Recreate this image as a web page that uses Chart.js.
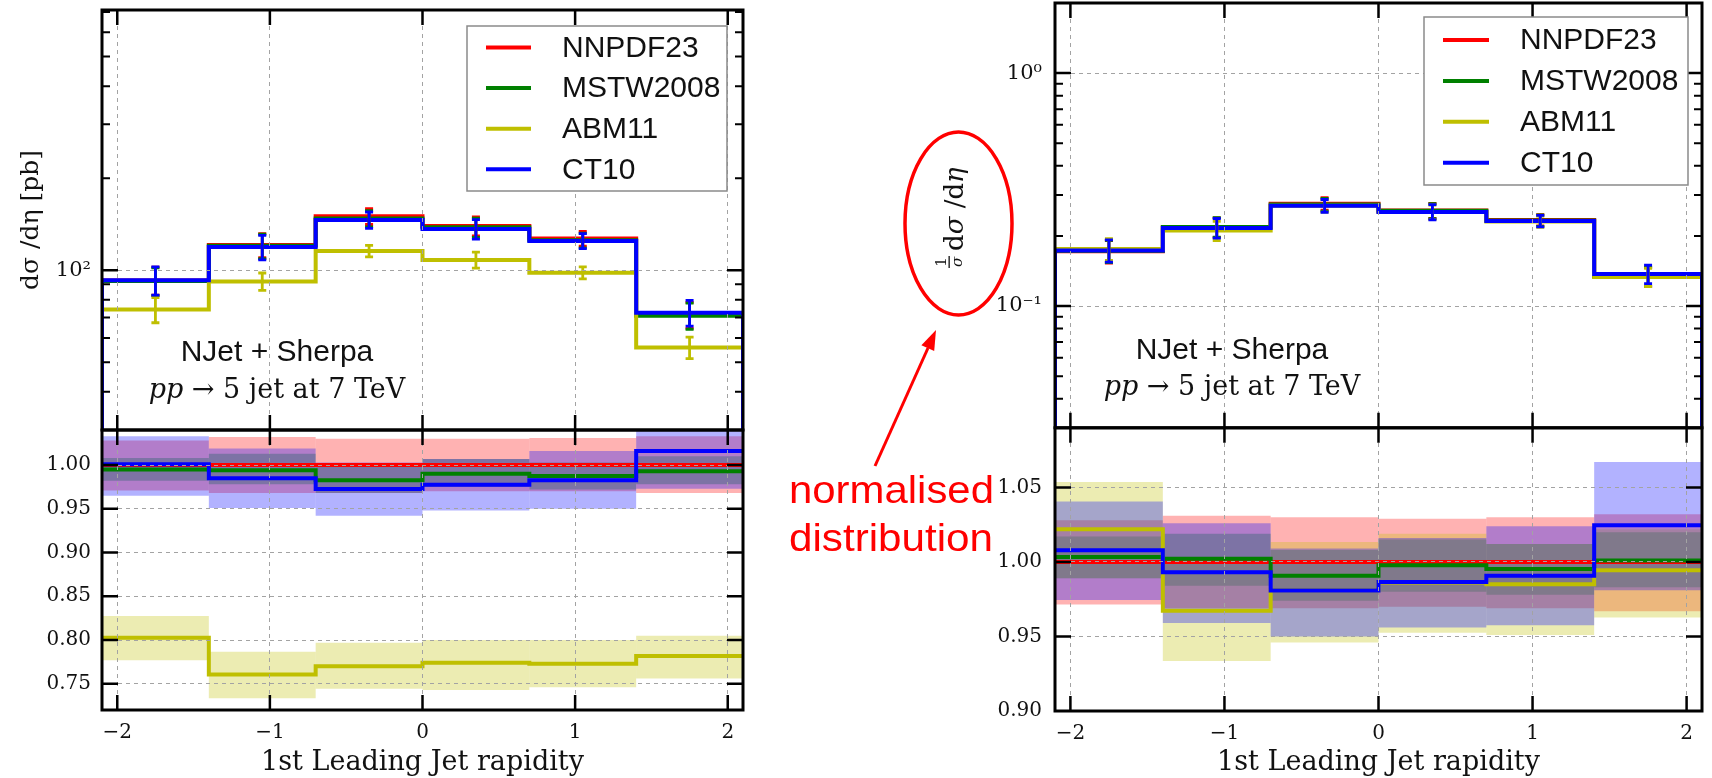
<!DOCTYPE html>
<html>
<head>
<meta charset="utf-8">
<script src="https://cdn.jsdelivr.net/npm/chart.js@4.4.1/dist/chart.umd.min.js"></script>
<style>
  html, body { margin: 0; padding: 0; background: #fff; }
  #wrap { position: relative; width: 1712px; height: 778px; overflow: hidden; }
  #absChart { position: absolute; left: 0; top: 0; }
  #normChart { position: absolute; left: 860px; top: 0; }
  #note { position: absolute; left: 0; top: 0; pointer-events: none; }
</style>
</head>
<body>
<div id="wrap">
  <canvas id="absChart" width="760" height="778"></canvas>
  <canvas id="normChart" width="852" height="778"></canvas>
  <svg id="note" width="1712" height="778">
    <ellipse cx="958.5" cy="223.5" rx="53.5" ry="91.5" fill="none" stroke="#f00" stroke-width="3.5"/>
    <line x1="875" y1="466" x2="928" y2="348" stroke="#f00" stroke-width="3"/>
    <polygon points="936,330 934.2,351.1 921.4,345.3" fill="#f00"/>
    <text x="789" y="503" font-family="Liberation Sans, Arial, sans-serif" font-size="39" fill="#f00"
          textLength="205" lengthAdjust="spacingAndGlyphs">normalised</text>
    <text x="789" y="551" font-family="Liberation Sans, Arial, sans-serif" font-size="39" fill="#f00"
          textLength="204" lengthAdjust="spacingAndGlyphs">distribution</text>
  </svg>
</div>
<script>
// rapidity bins and axis ticks
const edges = [-2.1, -1.4, -0.7, 0, 0.7, 1.4, 2.1];
const xTicks = [-2, -1, 0, 1, 2];
const pdfNames = ['NNPDF23', 'MSTW2008', 'ABM11', 'CT10'];

// dσ/dη [pb]
const absNNPDF = [92.6, 120.8, 150.1, 139.5, 126.9, 71.5];
const absMSTW = [92.1, 120.1, 147.5, 138.1, 125.3, 71.0];
const absABM = [74.3, 91.9, 115.6, 108.0, 98.1, 55.9];
const absCT10 = [92.7, 119.0, 146.0, 136.4, 124.7, 72.6];
const absErrNNPDF = [9.8, 11, 9, 10, 7, 7];
const absErrMSTW = [9.6, 11, 9, 10, 7, 7];
const absErrABM = [7, 6, 5, 6.5, 4.5, 4.5];
const absErrCT10 = [9.8, 11, 9, 10, 7, 7];

// ratio to NNPDF23, with PDF uncertainty bands
const absRatioNNPDF = [1, 1, 1, 1, 1, 1];
const absRatioMSTW = [0.995, 0.994, 0.9825, 0.990, 0.9875, 0.993];
const absRatioABM = [0.8026, 0.7607, 0.770, 0.774, 0.773, 0.7816];
const absRatioCT10 = [1.001, 0.985, 0.9725, 0.9775, 0.9825, 1.016];
const absLoNNPDF = [0.971, 0.968, 0.968, 0.970, 0.970, 0.968];
const absHiNNPDF = [1.028, 1.032, 1.030, 1.030, 1.031, 1.033];
const absLoMSTW = [0.982, 0.978, 0.968, 0.975, 0.972, 0.978];
const absHiMSTW = [1.008, 1.013, 0.999, 1.007, 1.003, 1.010];
const absLoABM = [0.777, 0.7333, 0.7443, 0.7428, 0.746, 0.756];
const absHiABM = [0.8275, 0.7866, 0.797, 0.800, 0.800, 0.8048];
const absLoCT10 = [0.965, 0.951, 0.942, 0.948, 0.950, 0.973];
const absHiCT10 = [1.033, 1.019, 1.003, 1.007, 1.016, 1.039];

// 1/σ dσ/dη
const normNNPDF = [0.172, 0.218, 0.275, 0.257, 0.234, 0.134];
const normMSTW = [0.1726, 0.2185, 0.2725, 0.2564, 0.2329, 0.1341];
const normABM = [0.1758, 0.2108, 0.2698, 0.2535, 0.2305, 0.1333];
const normCT10 = [0.1733, 0.2165, 0.2697, 0.2536, 0.2318, 0.1373];
const normErrNNPDF = [0.019, 0.021, 0.017, 0.019, 0.013, 0.0126];
const normErrMSTW = [0.019, 0.021, 0.017, 0.019, 0.013, 0.0126];
const normErrABM = [0.019, 0.020, 0.017, 0.018, 0.013, 0.012];
const normErrCT10 = [0.019, 0.021, 0.017, 0.019, 0.013, 0.0126];

const normRatioNNPDF = [1, 1, 1, 1, 1, 1];
const normRatioMSTW = [1.0033, 1.0022, 0.9908, 0.9978, 0.9953, 1.001];
const normRatioABM = [1.0219, 0.9672, 0.981, 0.9862, 0.985, 0.9944];
const normRatioCT10 = [1.0078, 0.9931, 0.9808, 0.9866, 0.9908, 1.0246];
const normLoNNPDF = [0.9715, 0.969, 0.969, 0.970, 0.969, 0.967];
const normHiNNPDF = [1.028, 1.031, 1.030, 1.029, 1.030, 1.032];
const normLoMSTW = [0.989, 0.984, 0.974, 0.980, 0.978, 0.983];
const normHiMSTW = [1.017, 1.019, 1.008, 1.015, 1.012, 1.020];
const normLoABM = [0.989, 0.9335, 0.946, 0.9525, 0.951, 0.9627];
const normHiABM = [1.0536, 1.001, 1.0134, 1.019, 1.012, 1.022];
const normLoCT10 = [0.9744, 0.959, 0.950, 0.956, 0.9575, 0.981];
const normHiCT10 = [1.0406, 1.026, 1.009, 1.016, 1.024, 1.067];

// y ticks
const absTopMajor = [100];
const absTopMinor = [30, 40, 50, 60, 70, 80, 90, 200, 300, 400, 500, 600, 700];
const absBotTicks = [0.75, 0.80, 0.85, 0.90, 0.95, 1.00];
const normTopMajor = [0.1, 1];
const normTopMinor = [0.03, 0.04, 0.05, 0.06, 0.07, 0.08, 0.09, 0.2, 0.3, 0.4, 0.5, 0.6, 0.7, 0.8, 0.9, 2];
const normBotTicks = [0.90, 0.95, 1.00, 1.05];

const serif = '"DejaVu Serif", "Liberation Serif", serif';
const sans = '"Liberation Sans", Arial, sans-serif';
Chart.defaults.font.family = serif;
Chart.defaults.color = '#111';

const lineColors = ['#ff0000', '#008000', '#bfbf00', '#0000ff'];
const bandColors = ['rgba(255,0,0,0.3)', 'rgba(0,128,0,0.3)', 'rgba(191,191,0,0.3)', 'rgba(0,0,255,0.3)'];
const gridColor = '#a3a3a3';

const sup = { '-': '⁻', '0': '⁰', '1': '¹', '2': '²', '3': '³' };
const powLabel = v => '10' + String(Math.round(Math.log10(v))).split('').map(c => sup[c]).join('');
const fmtX = v => (v < 0 ? '−' : '') + Math.abs(v);
const binCentre = i => (edges[i] + edges[i + 1]) / 2;

// histogram outline; optional floor drops the outer edges to the axis bottom
function stepPoints(vals, floor) {
  const pts = vals.map((v, i) => ({ x: edges[i], y: v }));
  pts.push({ x: edges[edges.length - 1], y: vals[vals.length - 1] });
  if (floor !== undefined) {
    pts.unshift({ x: edges[0], y: floor });
    pts.push({ x: edges[edges.length - 1], y: floor });
  }
  return pts;
}

function makeDatasets(p) {
  const out = [];
  pdfNames.forEach((name, k) => {
    out.push({
      type: 'bar', label: name + ' band', yAxisID: 'yBot', order: 40 - k,
      data: p.lo[k].map((lo, i) => ({ x: binCentre(i), y: [lo, p.hi[k][i]] })),
      backgroundColor: bandColors[k], borderWidth: 0, grouped: false,
      barPercentage: 1, categoryPercentage: 1, inflateAmount: 0
    });
    out.push({
      type: 'line', label: name, yAxisID: 'yBot', order: 20 - k,
      data: stepPoints(p.ratio[k]), stepped: 'before',
      borderColor: lineColors[k], borderWidth: 4, pointRadius: 0, fill: false
    });
    out.push({
      type: 'line', label: name, yAxisID: 'yTop', order: 20 - k,
      data: stepPoints(p.central[k], p.topRange[0]), stepped: 'before',
      borderColor: lineColors[k], borderWidth: 4, pointRadius: 0, fill: false
    });
  });
  return out;
}

function makeScales(p) {
  const tickFont = { family: serif, size: 20 };
  const fitY = s => { s.width = p.yAxisWidth; s.paddingTop = 0; s.paddingBottom = 0; };
  return {
    x: {
      type: 'linear', position: 'bottom', offset: false,
      min: edges[0], max: edges[edges.length - 1],
      afterBuildTicks: s => { s.ticks = xTicks.map(v => ({ value: v })); },
      afterFit: s => { s.height = p.xAxisHeight; s.paddingLeft = 0; s.paddingRight = 0; },
      grid: { color: gridColor, lineWidth: 1, drawTicks: false, offset: false, z: 1 },
      border: { display: false, dash: [4, 4] },
      ticks: { font: tickFont, padding: 11, autoSkip: false, maxRotation: 0, callback: fmtX },
      title: {
        display: true, text: '1st Leading Jet rapidity',
        font: { family: serif, size: 27, lineHeight: 1.1 }, padding: { top: 0, bottom: 0 }
      }
    },
    yBot: {
      type: 'linear', position: 'left', stack: 'panel', stackWeight: 2, beginAtZero: false,
      min: p.botRange[0], max: p.botRange[1],
      afterBuildTicks: s => { s.ticks = p.botTicks.map(v => ({ value: v })); },
      afterFit: fitY,
      grid: { color: gridColor, lineWidth: 1, drawTicks: false, z: 1 },
      border: { display: false, dash: [4, 4] },
      ticks: { font: tickFont, padding: p.yTickPad, autoSkip: false, callback: v => v.toFixed(2) }
    },
    yTop: {
      type: 'logarithmic', position: 'left', stack: 'panel', stackWeight: 3,
      min: p.topRange[0], max: p.topRange[1],
      afterBuildTicks: s => {
        s.ticks = p.topMajor.concat(p.topMinor).sort((a, b) => a - b).map(v => ({ value: v }));
      },
      afterFit: fitY,
      grid: {
        color: c => (c.tick && p.topMajor.includes(c.tick.value)) ? gridColor : 'rgba(0,0,0,0)',
        lineWidth: 1, drawTicks: false, z: 1
      },
      border: { display: false, dash: [4, 4] },
      ticks: { font: { family: serif, size: 21 }, padding: p.yTickPad, autoSkip: false, callback: v => p.topMajor.includes(v) ? powLabel(v) : '' },
      title: p.yTitle
        ? { display: true, text: p.yTitle, font: { family: serif, size: 25 }, padding: { top: 16, bottom: 0 } }
        : { display: false }
    }
  };
}

function drawRuns(ctx, runs, x, y, size) {
  runs.forEach(([txt, style]) => {
    ctx.font = (style ? style + ' ' : '') + size + 'px ' + serif;
    ctx.fillText(txt, x, y);
    x += ctx.measureText(txt).width;
  });
  return x;
}

function runsWidth(ctx, runs, size) {
  return runs.reduce((w, [txt, style]) => {
    ctx.font = (style ? style + ' ' : '') + size + 'px ' + serif;
    return w + ctx.measureText(txt).width;
  }, 0);
}

// frames, inward ticks, error bars, legend and process label
function decor(p) {
  return {
    id: 'decor',
    afterDatasetsDraw(chart) {
      const { ctx } = chart;
      const xs = chart.scales.x, ys = chart.scales.yTop;
      ctx.save();
      ctx.beginPath();
      ctx.rect(chart.chartArea.left, ys.top, chart.chartArea.right - chart.chartArea.left, ys.bottom - ys.top);
      ctx.clip();
      p.central.forEach((vals, k) => {
        ctx.strokeStyle = lineColors[k];
        ctx.lineWidth = 2.8;
        ctx.beginPath();
        vals.forEach((v, i) => {
          const px = xs.getPixelForValue(binCentre(i));
          const e = p.err[k][i];
          const y1 = ys.getPixelForValue(v - e), y2 = ys.getPixelForValue(v + e);
          ctx.moveTo(px, y1); ctx.lineTo(px, y2);
          ctx.moveTo(px - 4, y1); ctx.lineTo(px + 4, y1);
          ctx.moveTo(px - 4, y2); ctx.lineTo(px + 4, y2);
        });
        ctx.stroke();
      });
      ctx.restore();
    },
    afterDraw(chart) {
      const { ctx, chartArea: area } = chart;
      const xs = chart.scales.x;
      const panels = [chart.scales.yTop, chart.scales.yBot];
      ctx.save();
      ctx.strokeStyle = '#000';

      // y ticks on both sides, pointing inward
      const yTicks = (s, vals, len, w) => {
        ctx.lineWidth = w;
        ctx.beginPath();
        vals.forEach(v => {
          const py = s.getPixelForValue(v);
          if (py < s.top + 1 || py > s.bottom - 1) return;
          ctx.moveTo(area.left, py); ctx.lineTo(area.left + len, py);
          ctx.moveTo(area.right, py); ctx.lineTo(area.right - len, py);
        });
        ctx.stroke();
      };
      yTicks(chart.scales.yTop, p.topMajor, 16, 2.5);
      yTicks(chart.scales.yTop, p.topMinor, 8, 2);
      yTicks(chart.scales.yBot, p.botTicks, 16, 2.5);

      // x ticks on top and bottom of each panel
      ctx.lineWidth = 2.5;
      ctx.beginPath();
      panels.forEach(s => {
        xTicks.forEach(v => {
          const px = xs.getPixelForValue(v);
          ctx.moveTo(px, s.top); ctx.lineTo(px, s.top + 15);
          ctx.moveTo(px, s.bottom); ctx.lineTo(px, s.bottom - 15);
        });
      });
      ctx.stroke();

      // panel frames
      ctx.lineWidth = 3;
      panels.forEach(s => ctx.strokeRect(area.left, s.top, area.right - area.left, s.bottom - s.top));

      // legend
      const L = p.legend;
      ctx.fillStyle = '#fff';
      ctx.fillRect(L.x, L.y, L.w, L.h);
      ctx.strokeStyle = '#8a8a8a';
      ctx.lineWidth = 1.5;
      ctx.strokeRect(L.x, L.y, L.w, L.h);
      ctx.font = '30px ' + sans;
      ctx.textBaseline = 'middle';
      ctx.textAlign = 'left';
      pdfNames.forEach((name, k) => {
        const ry = L.row0 + k * L.step;
        ctx.strokeStyle = lineColors[k];
        ctx.lineWidth = 4;
        ctx.beginPath();
        ctx.moveTo(L.s0, ry); ctx.lineTo(L.s1, ry);
        ctx.stroke();
        ctx.fillStyle = '#111';
        ctx.fillText(name, L.tx, ry + 1);
      });

      // generator and process label
      const T = p.label;
      ctx.fillStyle = '#111';
      ctx.textBaseline = 'alphabetic';
      ctx.textAlign = 'center';
      ctx.font = '30px ' + sans;
      ctx.fillText('NJet + Sherpa', T.cx, T.y1);
      ctx.textAlign = 'left';
      const proc = [['pp', 'italic'], [' → 5 jet at 7 TeV', '']];
      drawRuns(ctx, proc, T.cx - runsWidth(ctx, proc, 27) / 2, T.y2, 27);

      // normalised y title: 1/σ dσ/dη
      if (p.fracTitle) {
        const F = p.fracTitle;
        ctx.translate(F.cx, F.cy);
        ctx.rotate(-Math.PI / 2);
        ctx.textAlign = 'center';
        ctx.font = '15px ' + serif;
        ctx.fillText('1', -46, -7);
        ctx.font = 'italic 15px ' + serif;
        ctx.fillText('σ', -46, 9);
        ctx.fillRect(-52, -4.5, 12, 1.3);
        ctx.textAlign = 'left';
        drawRuns(ctx, [['d', ''], ['σ', 'italic'], [' /d', ''], ['η', 'italic']], -35, 10, 26);
      }
      ctx.restore();
    }
  };
}

function makeChart(id, p) {
  return new Chart(document.getElementById(id), {
    type: 'line',
    data: { datasets: makeDatasets(p) },
    options: {
      responsive: false,
      animation: false,
      events: [],
      layout: { padding: p.padding },
      plugins: { legend: { display: false }, tooltip: { enabled: false } },
      scales: makeScales(p)
    },
    plugins: [decor(p)]
  });
}

makeChart('absChart', {
  central: [absNNPDF, absMSTW, absABM, absCT10],
  err: [absErrNNPDF, absErrMSTW, absErrABM, absErrCT10],
  ratio: [absRatioNNPDF, absRatioMSTW, absRatioABM, absRatioCT10],
  lo: [absLoNNPDF, absLoMSTW, absLoABM, absLoCT10],
  hi: [absHiNNPDF, absHiMSTW, absHiABM, absHiCT10],
  topRange: [30, 710], botRange: [0.72, 1.04],
  topMajor: absTopMajor, topMinor: absTopMinor, botTicks: absBotTicks,
  yTitle: 'dσ /dη [pb]',
  padding: { left: 0, top: 10, right: 17, bottom: 0 },
  yAxisWidth: 102, xAxisHeight: 68, yTickPad: 11,
  legend: { x: 467, y: 26, w: 260, h: 165, s0: 486, s1: 531, tx: 562, row0: 47.5, step: 40.6 },
  label: { cx: 277, y1: 361, y2: 398 }
});

makeChart('normChart', {
  central: [normNNPDF, normMSTW, normABM, normCT10],
  err: [normErrNNPDF, normErrMSTW, normErrABM, normErrCT10],
  ratio: [normRatioNNPDF, normRatioMSTW, normRatioABM, normRatioCT10],
  lo: [normLoNNPDF, normLoMSTW, normLoABM, normLoCT10],
  hi: [normHiNNPDF, normHiMSTW, normHiABM, normHiCT10],
  topRange: [0.03, 2], botRange: [0.90, 1.09],
  topMajor: normTopMajor, topMinor: normTopMinor, botTicks: normBotTicks,
  yTitle: null,
  padding: { left: 0, top: 3, right: 10, bottom: 0 },
  yAxisWidth: 195, xAxisHeight: 67, yTickPad: 13,
  legend: { x: 564, y: 17, w: 264, h: 168, s0: 583, s1: 629, tx: 660, row0: 40, step: 40.9 },
  label: { cx: 372, y1: 359, y2: 395 },
  fracTitle: { cx: 93, cy: 216 }
});
</script>
</body>
</html>
